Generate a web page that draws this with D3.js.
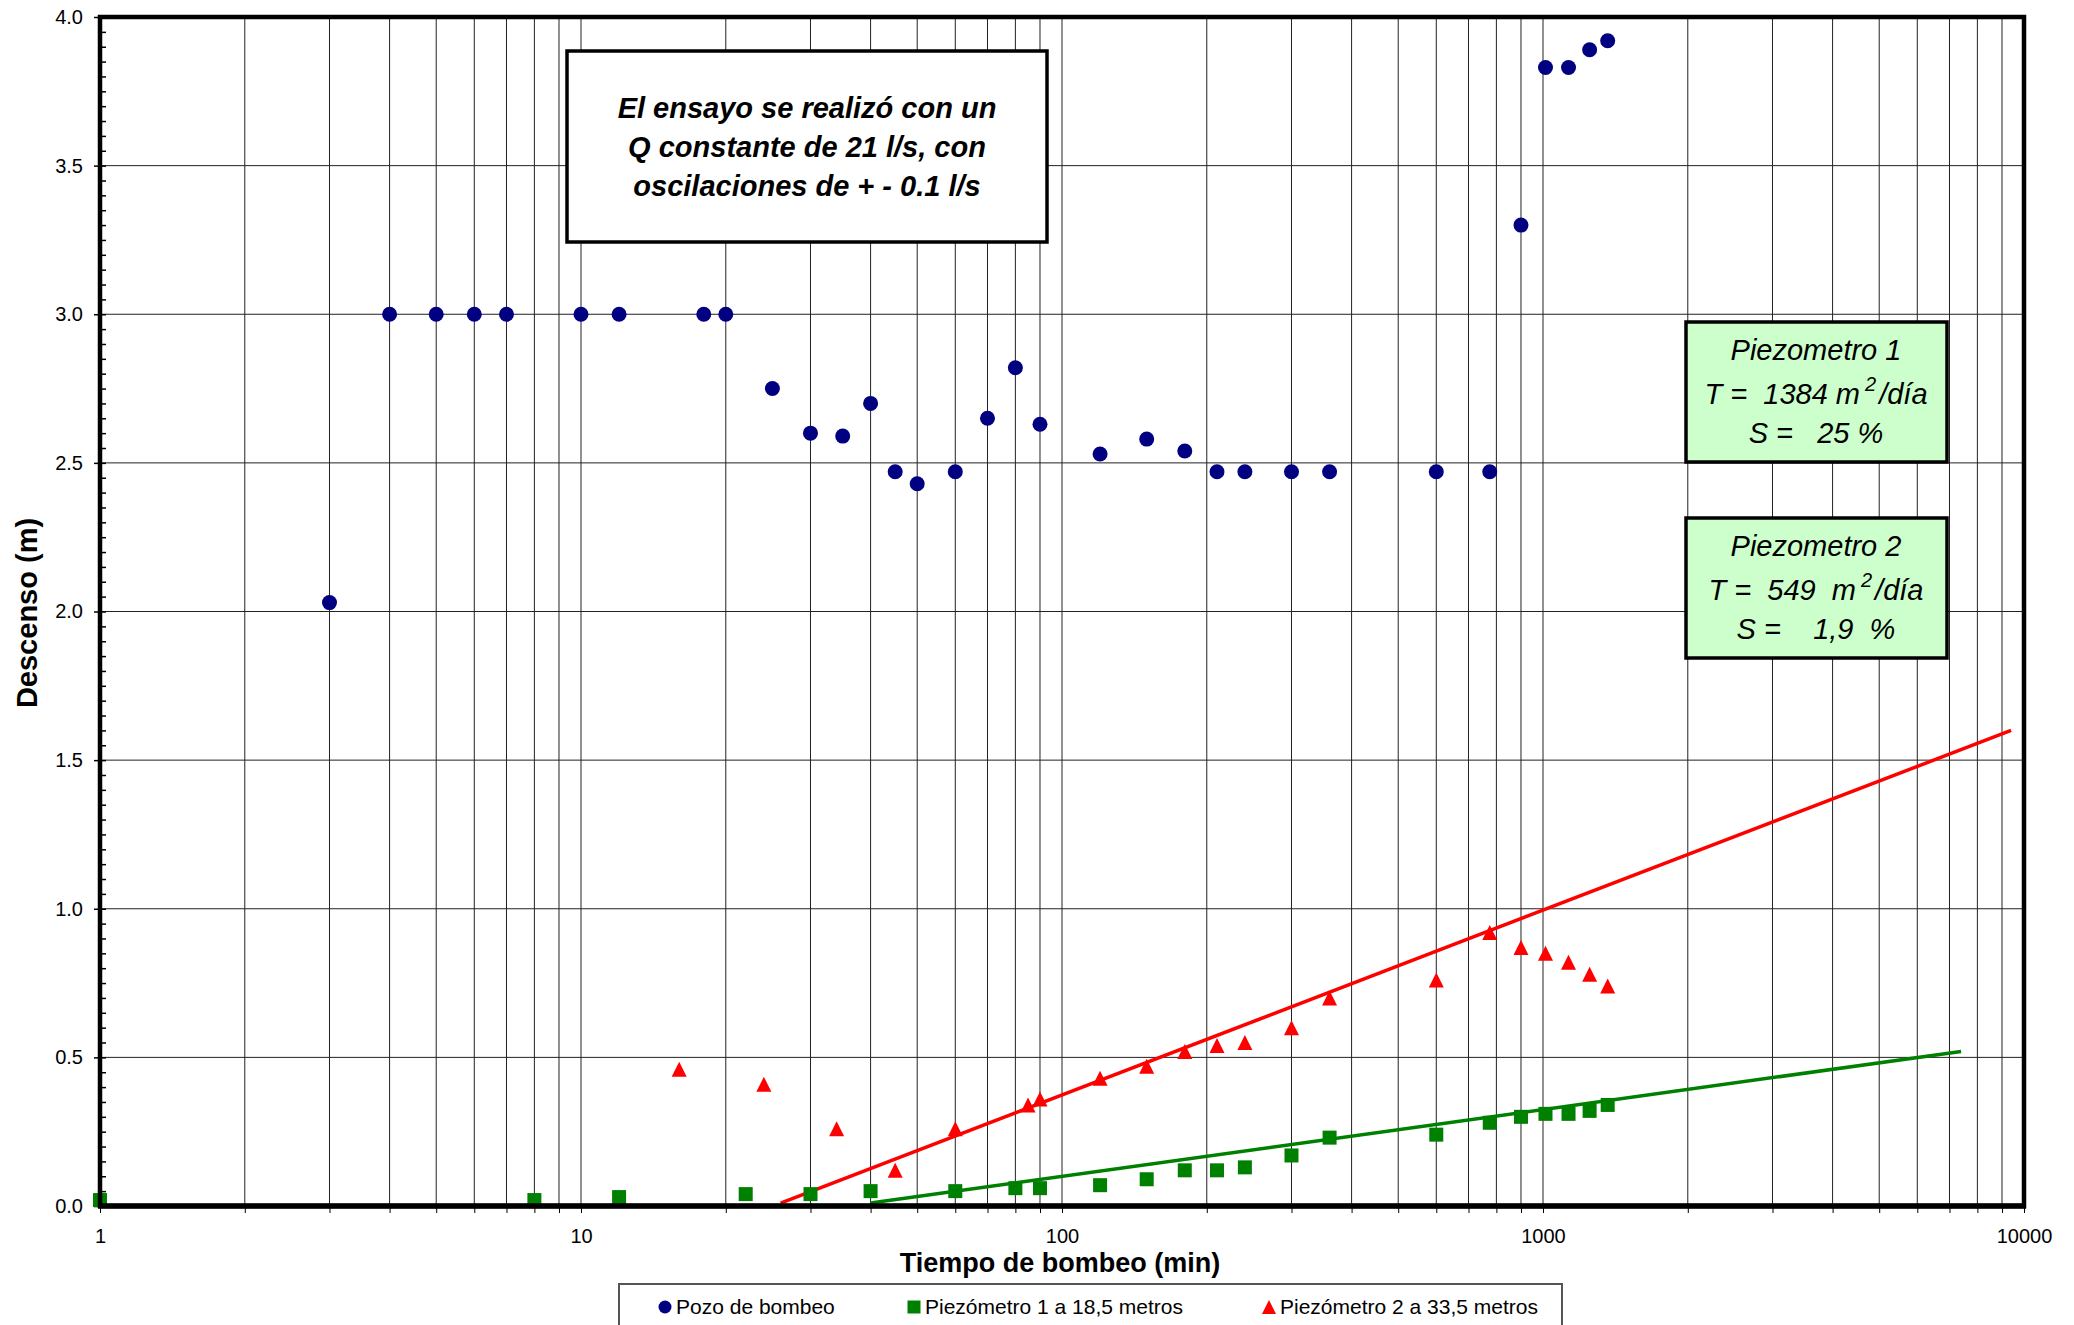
<!DOCTYPE html>
<html lang="es">
<head>
<meta charset="utf-8">
<title>Ensayo de bombeo</title>
<script src="https://d3js.org/d3.v7.min.js"></script>
<style>
  body { margin: 0; background: #fff; }
  svg text { font-family: "Liberation Sans", Arial, sans-serif; }
</style>
</head>
<body>
<script>
// Tiempo (min) y descenso (m)
var tPozo = [3, 4, 5, 6, 7, 10, 12, 18, 20, 25, 30, 35, 40, 45, 50, 60, 70, 80, 90,
             120, 150, 180, 210, 240, 300, 360, 600, 775, 900, 1012, 1130, 1250, 1363];
var sPozo = [2.03, 3.0, 3.0, 3.0, 3.0, 3.0, 3.0, 3.0, 3.0, 2.75, 2.60, 2.59, 2.70, 2.47, 2.43, 2.47, 2.65, 2.82, 2.63,
             2.53, 2.58, 2.54, 2.47, 2.47, 2.47, 2.47, 2.47, 2.47, 3.30, 3.83, 3.83, 3.89, 3.92];

var tPiezo1 = [1, 8, 12, 22, 30, 40, 60, 80, 90, 120, 150, 180, 210, 240, 300, 360, 600, 775, 900, 1012, 1130, 1250, 1363];
var sPiezo1 = [0.02, 0.02, 0.03, 0.04, 0.04, 0.05, 0.05, 0.06, 0.06, 0.07, 0.09, 0.12, 0.12, 0.13, 0.17, 0.23, 0.24, 0.28, 0.30, 0.31, 0.31, 0.32, 0.34];

var tPiezo2 = [16, 24, 34, 45, 60, 85, 90, 120, 150, 180, 210, 240, 300, 360, 600, 775, 900, 1012, 1130, 1250, 1363];
var sPiezo2 = [0.46, 0.41, 0.26, 0.12, 0.26, 0.34, 0.36, 0.43, 0.47, 0.52, 0.54, 0.55, 0.60, 0.70, 0.76, 0.92, 0.87, 0.85, 0.82, 0.78, 0.74];

// rectas de ajuste (Jacob) [tiempo, descenso]
var ajuste1 = [[40, 0.01], [7400, 0.52]];
var ajuste2 = [[26, 0.01], [9400, 1.60]];

var xLabels = [1, 10, 100, 1000, 10000];
var yLabels = [0, 0.5, 1.0, 1.5, 2.0, 2.5, 3.0, 3.5, 4.0];

var leyenda = ["Pozo de bombeo", "Piezómetro 1 a 18,5 metros", "Piezómetro 2 a 33,5 metros"];
var notaEnsayo = ["El ensayo se realizó con un", "Q constante de 21 l/s, con", "oscilaciones de + - 0.1 l/s"];

//Width and height
var width = 2074;
var height = 1325;
var pLeft = 100, pRight = 2024, pTop = 17, pBottom = 1206;

var svg = d3.select("body")
            .append("svg")
            .attr("width", width)
            .attr("height", height);

svg.append("rect").attr("width", width).attr("height", height).attr("fill", "#fff");

var x = d3.scaleLog().domain([1, 10000]).range([pLeft, pRight]);
var y = d3.scaleLinear().domain([0, 4]).range([pBottom, pTop]);

// all log grid values 1..10000
var gridX = [];
[1, 10, 100, 1000].forEach(function(d) {
    for (var k = 1; k < 10; k++) gridX.push(d * k);
});
gridX.push(10000);

// grid
svg.append("g").selectAll("line")
   .data(gridX)
   .enter().append("line")
   .attr("x1", d => x(d)).attr("x2", d => x(d))
   .attr("y1", pTop).attr("y2", pBottom)
   .attr("stroke", "#222").attr("stroke-width", 1);

svg.append("g").selectAll("line")
   .data(yLabels)
   .enter().append("line")
   .attr("x1", pLeft).attr("x2", pRight)
   .attr("y1", d => y(d)).attr("y2", d => y(d))
   .attr("stroke", "#222").attr("stroke-width", 1);

// x axis ticks + labels
var xAxis = d3.axisBottom(x)
              .tickValues(gridX)
              .tickSize(7)
              .tickPadding(16)
              .tickFormat(d => xLabels.indexOf(d) >= 0 ? d : "");
var gx = svg.append("g").attr("transform", "translate(0," + pBottom + ")").call(xAxis);
gx.select(".domain").remove();
gx.selectAll("line").attr("stroke", "#000");
gx.selectAll("text").attr("font-size", 20).attr("fill", "#000")
  .style("font-family", "'Liberation Sans', Arial, sans-serif");

// y axis major ticks + labels
var yAxis = d3.axisLeft(y)
              .tickValues(yLabels)
              .tickSize(6)
              .tickPadding(11)
              .tickFormat(d3.format(".1f"));
var gy = svg.append("g").attr("transform", "translate(" + pLeft + ",0)").call(yAxis);
gy.select(".domain").remove();
gy.selectAll("line").attr("stroke", "#000").attr("stroke-width", 1.5);
gy.selectAll("text").attr("font-size", 20).attr("fill", "#000")
  .style("font-family", "'Liberation Sans', Arial, sans-serif");

// y minor ticks inside
var gyMinor = svg.append("g").attr("transform", "translate(" + pLeft + ",0)")
                 .call(d3.axisRight(y).tickValues(d3.range(0, 81).map(i => i * 0.05)).tickSize(6).tickFormat(""));
gyMinor.select(".domain").remove();
gyMinor.selectAll("line").attr("stroke", "#000").attr("stroke-width", 1.5);

// trend lines
var line = d3.line().x(d => x(d[0])).y(d => y(d[1]));
svg.append("path").attr("d", line(ajuste2)).attr("fill", "none")
   .attr("stroke", "#ff0000").attr("stroke-width", 3.5);
svg.append("path").attr("d", line(ajuste1)).attr("fill", "none")
   .attr("stroke", "#008000").attr("stroke-width", 3.5);

// markers
function tri(cx, cy, s) {
    return "M" + cx + "," + (cy - s / 2) + "L" + (cx + s / 2) + "," + (cy + s / 2) + "L" + (cx - s / 2) + "," + (cy + s / 2) + "Z";
}

svg.append("g").selectAll("rect")
   .data(tPiezo1.map((t, i) => [t, sPiezo1[i]]))
   .enter().append("rect")
   .attr("x", d => x(d[0]) - 7).attr("y", d => y(d[1]) - 7)
   .attr("width", 14).attr("height", 14)
   .attr("fill", "#008000");

svg.append("g").selectAll("path")
   .data(tPiezo2.map((t, i) => [t, sPiezo2[i]]))
   .enter().append("path")
   .attr("d", d => tri(x(d[0]), y(d[1]), 15))
   .attr("fill", "#ff0000");

svg.append("g").selectAll("circle")
   .data(tPozo.map((t, i) => [t, sPozo[i]]))
   .enter().append("circle")
   .attr("cx", d => x(d[0])).attr("cy", d => y(d[1]))
   .attr("r", 7.5)
   .attr("fill", "#000080");

// frame
svg.append("rect")
   .attr("x", pLeft).attr("y", pTop)
   .attr("width", pRight - pLeft).attr("height", pBottom - pTop)
   .attr("fill", "none").attr("stroke", "#000").attr("stroke-width", 4.5);
svg.append("line")
   .attr("x1", pLeft - 2).attr("x2", pRight + 2)
   .attr("y1", pBottom).attr("y2", pBottom)
   .attr("stroke", "#000").attr("stroke-width", 5.5);

// note box
svg.append("rect")
   .attr("x", 567).attr("y", 51).attr("width", 480).attr("height", 191)
   .attr("fill", "#fff").attr("stroke", "#000").attr("stroke-width", 3.5);
svg.append("g").selectAll("text")
   .data(notaEnsayo)
   .enter().append("text")
   .attr("x", 807).attr("y", (d, i) => 118 + i * 39)
   .attr("text-anchor", "middle")
   .attr("font-size", 29).attr("font-weight", "bold").attr("font-style", "italic")
   .text(d => d);

// piezometer boxes
var cajas = [
    {y: 322, titulo: "Piezometro 1", t: "T =  1384 m", s: "S =   25 %"},
    {y: 518, titulo: "Piezometro 2", t: "T =  549  m", s: "S =    1,9  %"}
];
cajas.forEach(function(c) {
    svg.append("rect")
       .attr("x", 1686).attr("y", c.y).attr("width", 261).attr("height", 140)
       .attr("fill", "#ccffcc").attr("stroke", "#000").attr("stroke-width", 3.5);
    var cx = 1816;
    svg.append("text").attr("x", cx).attr("y", c.y + 38).attr("text-anchor", "middle")
       .attr("font-size", 29).attr("font-style", "italic").style("white-space", "pre")
       .text(c.titulo);
    var t2 = svg.append("text").attr("x", cx).attr("y", c.y + 82).attr("text-anchor", "middle")
       .attr("font-size", 29).attr("font-style", "italic").style("white-space", "pre");
    t2.append("tspan").text(c.t);
    t2.append("tspan").attr("dx", 5).attr("dy", -13).attr("font-size", 20).text("2");
    t2.append("tspan").attr("dx", 3).attr("dy", 13).text("/día");
    svg.append("text").attr("x", cx).attr("y", c.y + 121).attr("text-anchor", "middle")
       .attr("font-size", 29).attr("font-style", "italic").style("white-space", "pre")
       .text(c.s);
});

// axis titles
svg.append("text")
   .attr("x", 1060).attr("y", 1272)
   .attr("text-anchor", "middle")
   .attr("font-size", 27).attr("font-weight", "bold")
   .text("Tiempo de bombeo (min)");
svg.append("text")
   .attr("transform", "translate(37,613) rotate(-90)")
   .attr("text-anchor", "middle")
   .attr("font-size", 29).attr("font-weight", "bold")
   .text("Descenso (m)");

// legend
svg.append("rect")
   .attr("x", 619).attr("y", 1284).attr("width", 943).attr("height", 70)
   .attr("fill", "#fff").attr("stroke", "#555").attr("stroke-width", 2);
var legX = [665, 914, 1269];
var leg = svg.append("g");
leg.append("circle").attr("cx", legX[0]).attr("cy", 1307).attr("r", 6.5).attr("fill", "#000080");
leg.append("rect").attr("x", legX[1] - 6.5).attr("y", 1300.5).attr("width", 13).attr("height", 13).attr("fill", "#008000");
leg.append("path").attr("d", tri(legX[2], 1307, 14)).attr("fill", "#ff0000");
leg.selectAll("text")
   .data(leyenda)
   .enter().append("text")
   .attr("x", (d, i) => legX[i] + 11)
   .attr("y", 1314)
   .attr("font-size", 21)
   .text(d => d);
</script>
</body>
</html>
